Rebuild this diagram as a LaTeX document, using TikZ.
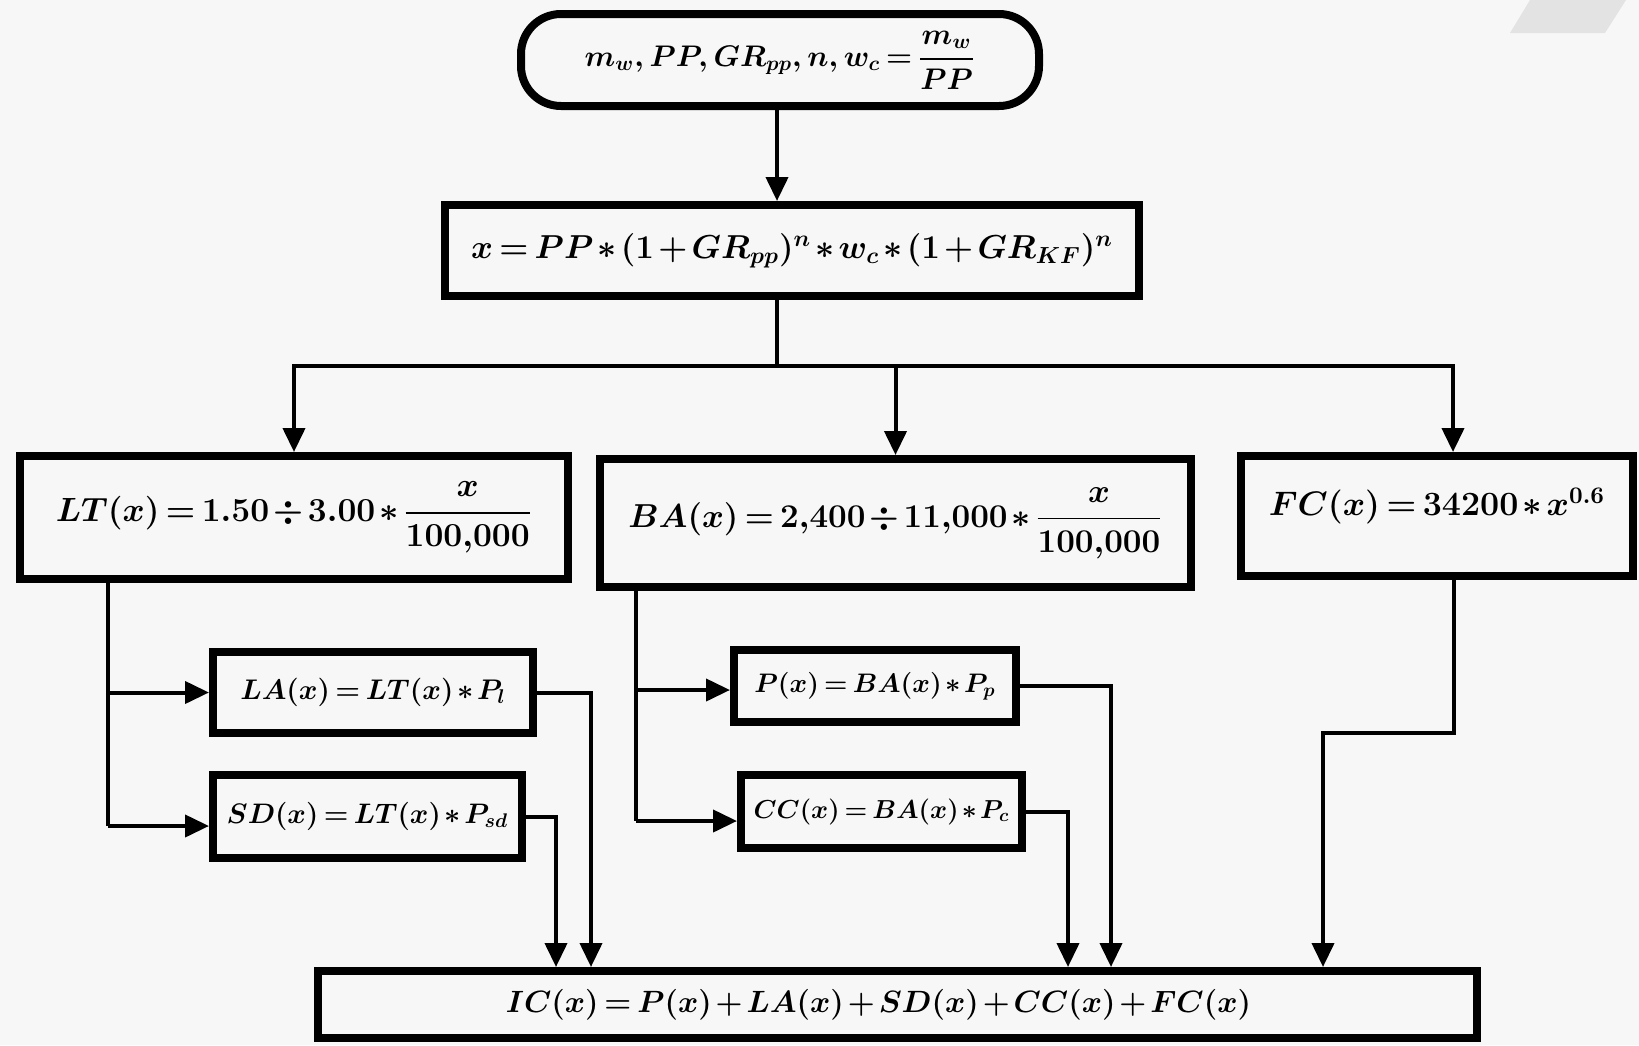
\documentclass[tikz,border=0pt]{standalone}
\usepackage{fix-cm}
\usepackage{amsmath,amssymb}
\usepackage{tikz}
\usetikzlibrary{arrows.meta,positioning,calc}
\definecolor{paper}{HTML}{F7F7F7}
\definecolor{smudge}{HTML}{E3E3E3}
\tikzset{
  fsize/.style={font=\fontsize{#1}{#1}\selectfont\boldmath},
  box/.style={draw, rectangle, line width=4pt, align=center, fsize=15, inner sep=1pt, fill=paper},
  tbox/.style={box, rounded corners=20pt},
  line/.style={line width=2pt},
  arr/.style={-{Triangle[length=12pt,width=11pt]}, line width=2pt},
}

\begin{document}
\medmuskip=2mu\relax
\thickmuskip=3mu\relax
\begin{tikzpicture}[x=0.5pt, y=-0.5pt]
\useasboundingbox (0,0) rectangle (1639,1045);
\fill[paper] (0,0) rectangle (1639,1045);
\fill[smudge] (1530,0) -- (1626,0) -- (1605,33) -- (1510,33) -- cycle;
% inputs and x
\node[tbox, fsize=14.9, minimum width=259pt, minimum height=46pt] (term) at (780,60) {$m_w, PP, GR_{pp}, n, w_c = \dfrac{m_w}{PP}$};
\node[box, fsize=16.6, minimum width=347pt, minimum height=45.5pt] (xv) at (792,250.5) {$x = PP * (1 + GR_{pp})^n * w_c * (1 + GR_{KF})^n$};
% second row
\node[box, fsize=16.8, minimum width=274pt, minimum height=61.5pt] (lt) at (294,517.5) {$LT(x) = 1.50 \div 3.00 * \dfrac{x}{100{,}000}$};
\node[box, fsize=16.6, minimum width=295.5pt, minimum height=64pt] (ba) at (895.5,523) {$BA(x) = 2{,}400 \div 11{,}000 * \dfrac{x}{100{,}000}$};
\node[box, fsize=17, minimum width=196pt, minimum height=60pt, text depth=14pt] (fc) at (1437,516) {$FC(x) = 34200 * x^{0.6}$};
% third row
\node[box, fsize=14.2, minimum width=160pt, minimum height=40.5pt] (la) at (373,692.5) {$LA(x) = LT(x) * P_l$};
\node[box, fsize=14.1, minimum width=154.5pt, minimum height=41.5pt] (sd) at (367.5,816.5) {$SD(x) = LT(x) * P_{sd}$};
\node[box, fsize=13.4, minimum width=141pt, minimum height=36pt] (pp) at (875,686) {$P(x) = BA(x) * P_p$};
\node[box, fsize=13, minimum width=140.5pt, minimum height=36.5pt] (cc) at (881.5,811.5) {$CC(x) = BA(x) * P_c$};
% total
\node[box, fsize=15.4, minimum width=579.5pt, minimum height=33.5pt] (ic) at (897.5,1004.5) {$IC(x) = P(x) + LA(x) + SD(x) + CC(x) + FC(x)$\hspace*{19pt}};

\coordinate (split) at (777,366);
\coordinate (fcin) at (1453,366);
\coordinate (ltx) at (108,826);
\coordinate (bax) at (636,821);
\coordinate (fcbend) at (1454,733);
\draw[arr] (term.south -| split) -- (split |- xv.north);
\draw[line] (xv.south -| split) -- (split);
\draw[arr] (split) -| (lt);
\draw[arr] (split) -| (ba);
\draw[arr] (split) -- (fcin) -- (fcin |- fc.north);
% LT branch
\draw[line] (lt.south -| ltx) -- (ltx);
\draw[arr] (lt.south -| ltx) |- (la);
\draw[arr] (ltx) -- (ltx -| sd.west);
% BA branch
\draw[line] (ba.south -| bax) -- (bax);
\draw[arr] (ba.south -| bax) |- ([yshift=-2pt]pp.west);
\draw[arr] (bax) -- (bax -| cc.west);
% into IC
\draw[arr] (la) -| (591,0 |- ic.north);
\draw[arr] (sd) -| (556,0 |- ic.north);
\draw[arr] (pp) -| (1111,0 |- ic.north);
\draw[arr] (cc) -| (1068,0 |- ic.north);
\draw[arr] (fc.south -| fcbend) -- (fcbend) -| (1323,0 |- ic.north);
\end{tikzpicture}
\end{document}
